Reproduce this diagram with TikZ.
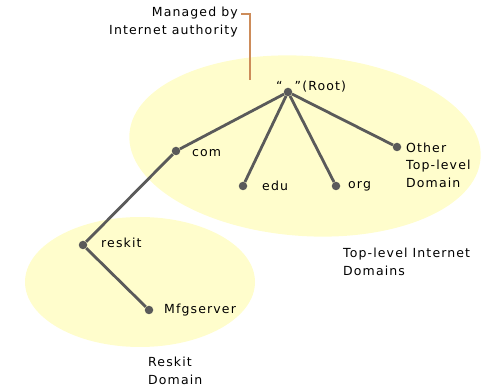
\documentclass[tikz,border=0pt]{standalone}
\usepackage{fontspec}
\setmainfont[LetterSpace=9]{DejaVu Sans}
\begin{document}
\begin{tikzpicture}[x=1pt,y=-1pt,
  dombg/.style={fill=ellfill,draw=none},
  link/.style={draw=linkgray,line width=2.8pt},
  dot/.style={circle,fill=linkgray,inner sep=0pt,minimum size=8.5pt},
  lbl/.style={font=\fontsize{12.5}{17.5}\selectfont,inner sep=0pt,anchor=west,align=left,text=black}]
\definecolor{ellfill}{RGB}{255,253,204}
\definecolor{linkgray}{RGB}{90,90,90}
\definecolor{mgr}{RGB}{205,140,90}
\useasboundingbox (0,0) rectangle (496,387);
% domains
\fill[dombg,rotate around={-4:(305,146)}] (305,146) ellipse [x radius=176, y radius=90];
\fill[dombg] (140,282) ellipse [x radius=115, y radius=65];
% authority marker
\coordinate (m1) at (241,14);
\coordinate (m2) at (250,14);
\coordinate (m3) at (250,80);
\draw[mgr,line width=2pt] (m1) -- (m2) -- (m3);
\node[lbl,anchor=east,align=right] (mtxt) at (238,22) {Managed by\\Internet authority};
% nodes
\node[dot] (root) at (288,92) {};
\node[dot] (com) at (176,151) {};
\node[dot] (edu) at (243,186) {};
\node[dot] (org) at (336,186) {};
\node[dot] (oth) at (397,147) {};
\node[dot] (res) at (83,245) {};
\node[dot] (mfg) at (149,310) {};
\draw[link] (root) -- (com);
\draw[link] (root) -- (edu);
\draw[link] (root) -- (org);
\draw[link] (root) -- (oth);
\draw[link] (com) -- (res);
\draw[link] (res) -- (mfg);
% labels
\node[lbl] (lroot) at (276,87) {“\hspace{12pt}”(Root)};
\node[lbl] (lcom) at (192,153) {com};
\node[lbl] (ledu) at (262,186) {edu};
\node[lbl] (lorg) at (348,186) {org};
\node[lbl] (loth) at (406,165) {Other\\Top-level\\Domain};
\node[lbl] (lres) at (101,243) {reskit};
\node[lbl] (lmfg) at (164,310) {Mfgserver};
\node[lbl] (ltop) at (343,262) {Top-level Internet\\Domains};
\node[lbl] (lrd) at (148,371) {Reskit\\Domain};
\end{tikzpicture}
\end{document}
